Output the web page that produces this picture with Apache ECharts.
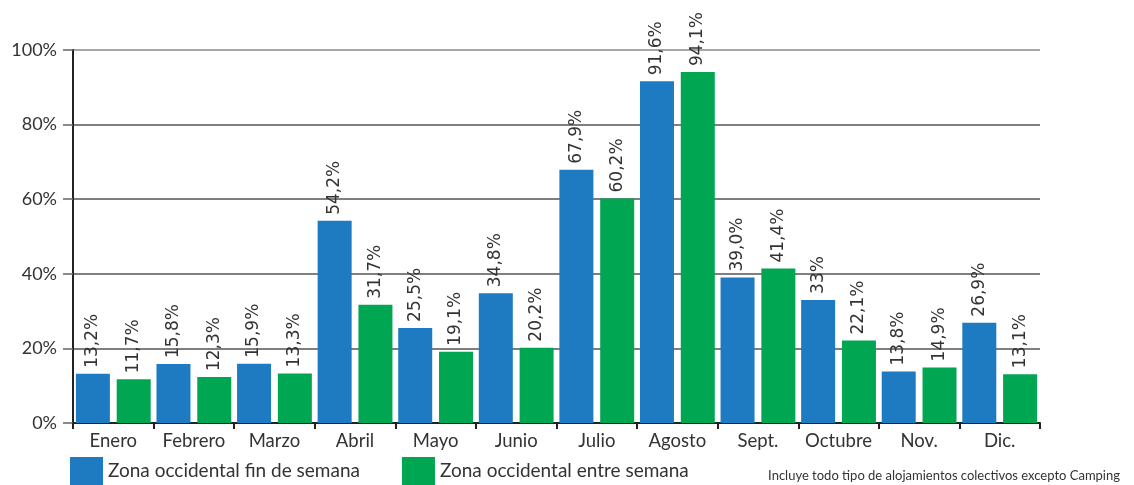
<!DOCTYPE html>
<html>
<head>
<meta charset="utf-8">
<script src="https://cdn.jsdelivr.net/npm/echarts@6/dist/echarts.min.js"></script>
<style>
html, body { margin: 0; padding: 0; background: #fff; }
#chart { width: 1134px; height: 485px; }
</style>
</head>
<body>
<div id="chart"></div>
<script>
var meses = ['Enero', 'Febrero', 'Marzo', 'Abril', 'Mayo', 'Junio', 'Julio', 'Agosto', 'Sept.', 'Octubre', 'Nov.', 'Dic.'];
var finSemana = [13.2, 15.8, 15.9, 54.2, 25.5, 34.8, 67.9, 91.6, 39.0, 33, 13.8, 26.9];
var entreSemana = [11.7, 12.3, 13.3, 31.7, 19.1, 20.2, 60.2, 94.1, 41.4, 22.1, 14.9, 13.1];
// etiquetas tal cual aparecen (Octubre sin decimal)
var etqFin = ['13,2%', '15,8%', '15,9%', '54,2%', '25,5%', '34,8%', '67,9%', '91,6%', '39,0%', '33%', '13,8%', '26,9%'];
var etqEntre = ['11,7%', '12,3%', '13,3%', '31,7%', '19,1%', '20,2%', '60,2%', '94,1%', '41,4%', '22,1%', '14,9%', '13,1%'];
var yTicks = [0, 20, 40, 60, 80, 100];

var fuente = 'Lato, "DejaVu Sans", sans-serif';
var chart = echarts.init(document.getElementById('chart'));

function etiqueta(lista) {
	return {
		show: true,
		position: 'top',
		rotate: 90,
		align: 'left',
		verticalAlign: 'middle',
		distance: 6,
		fontFamily: '"DejaVu Sans", sans-serif',
		fontSize: 17,
		color: '#333',
		formatter: function(p) { return lista[p.dataIndex]; }
	};
}

var option = {
	animation: false,
	textStyle: { fontFamily: fuente },
	grid: { left: 73, right: 94, top: 50, bottom: 62, containLabel: false },
	legend: {
		left: 65,
		top: 452,
		itemWidth: 33,
		itemHeight: 28,
		itemGap: 42,
		icon: 'rect',
		textStyle: { fontFamily: fuente, fontSize: 19, color: '#333' },
		data: ['Zona occidental fin de semana', 'Zona occidental entre semana']
	},
	graphic: [{
		type: 'text',
		right: 14,
		top: 469,
		style: {
			text: 'Incluye todo tipo de alojamientos colectivos excepto Camping',
			fontFamily: fuente,
			fontSize: 13,
			fill: '#333'
		}
	}],
	xAxis: {
		type: 'category',
		data: meses,
		axisLine: { lineStyle: { color: '#222', width: 2 } },
		axisTick: { show: true, interval: 0, length: 6, lineStyle: { color: '#222', width: 2 } },
		axisLabel: { interval: 0, hideOverlap: false, fontFamily: fuente, fontSize: 18.5, color: '#333', margin: 9 }
	},
	yAxis: {
		type: 'value',
		min: yTicks[0],
		max: yTicks[yTicks.length - 1],
		interval: 20,
		axisLine: { show: true, lineStyle: { color: '#222', width: 2 } },
		axisTick: { show: true, length: 10, lineStyle: { color: '#666', width: 1.5 } },
		axisLabel: {
			fontFamily: fuente, fontSize: 18, color: '#333', margin: 16,
			formatter: '{value}%'
		},
		splitLine: {
			show: true,
			lineStyle: { color: ['#555', '#555', '#555', '#555', '#555', '#888'], width: 1.5 }
		}
	},
	series: [{
		name: 'Zona occidental fin de semana',
		type: 'bar',
		data: finSemana,
		barWidth: 34,
		barGap: '20%',
		itemStyle: { color: '#1f7bc1' },
		label: etiqueta(etqFin)
	}, {
		name: 'Zona occidental entre semana',
		type: 'bar',
		data: entreSemana,
		barWidth: 34,
		barGap: '20%',
		itemStyle: { color: '#00a651' },
		label: etiqueta(etqEntre)
	}]
};
chart.setOption(option);
</script>
</body>
</html>
